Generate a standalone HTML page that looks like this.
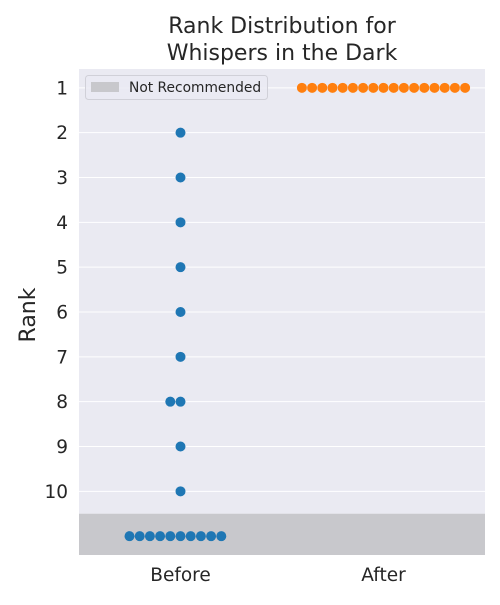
<!DOCTYPE html>
<html><head><meta charset="utf-8"><style>
body{margin:0;background:#fff;}
svg text{font-family:"DejaVu Sans","Liberation Sans",sans-serif;fill:#262626;}
</style></head><body>
<svg id="chart" width="500" height="600" xmlns="http://www.w3.org/2000/svg">
<text x="282" y="33" text-anchor="middle" font-size="22">Rank Distribution for</text>
<text x="282" y="60" text-anchor="middle" font-size="22">Whispers in the Dark</text>
<text transform="translate(35,315) rotate(-90)" text-anchor="middle" font-size="22">Rank</text>
<g id="plot"></g>
</svg>
<script>
const categories = ["Before", "After"];
const beforeRanks = [2,3,4,5,6,7,8,8,9,10,11,11,11,11,11,11,11,11,11,11];
const afterRanks = [1,1,1,1,1,1,1,1,1,1,1,1,1,1,1,1,1];
const yTicks = [1,2,3,4,5,6,7,8,9,10];
const colors = ["#1f77b4", "#ff7f0e"];

const L=79,R=485,T=69,B=555;
const yMin=0.58,yMax=11.42;
const y = v => T + (v - yMin) / (yMax - yMin) * (B - T);
const x = i => L + (i + 0.5) / 2 * (R - L);
const NS="http://www.w3.org/2000/svg";
const g=document.getElementById('plot');
function mk(t,a){const e=document.createElementNS(NS,t);for(const k in a)e.setAttribute(k,a[k]);g.appendChild(e);return e;}

const bg=mk('rect',{x:L,y:T,width:R-L,height:B-T,fill:'#eaeaf2'});


yTicks.forEach(t=>{
  const ln=mk('line',{x1:L,x2:R,y1:y(t),y2:y(t),stroke:'#fff','stroke-width':1});
  
  
  const tx=mk('text',{x:68,y:y(t)+6.5,'text-anchor':'end','font-size':18.5});
  tx.textContent=t;
  
  
});
const band=mk('rect',{x:L,y:y(10.5),width:R-L,height:B-y(10.5),fill:'#c8c8cc'});



categories.forEach((c,i)=>{
  const tx=mk('text',{x:x(i),y:581,'text-anchor':'middle','font-size':18.5});
  tx.textContent=c;
  
  
});

function swarm(ranks,ci){
  const counts={};
  ranks.forEach(r=>{
    const k=counts[r]||0;counts[r]=k+1;
    const off = k===0?0:(k%2===1?-Math.ceil(k/2):Math.ceil(k/2));
    const d=mk('circle',{cx:x(ci)+off*10.2,cy:y(r),r:5,fill:colors[ci]});
    
    
  });
}
swarm(beforeRanks,0);
swarm(afterRanks,1);

const lg=mk('rect',{x:85.5,y:75.5,width:182,height:24,rx:3,fill:'#eaeaf2',stroke:'#d0d0d8','fill-opacity':0.8});


const lp=mk('rect',{x:91,y:82,width:28,height:10,fill:'#c8c8cc'});


const lt=mk('text',{x:129,y:92,'font-size':13.8});
lt.textContent='Not Recommended';


</script>
</body></html>
